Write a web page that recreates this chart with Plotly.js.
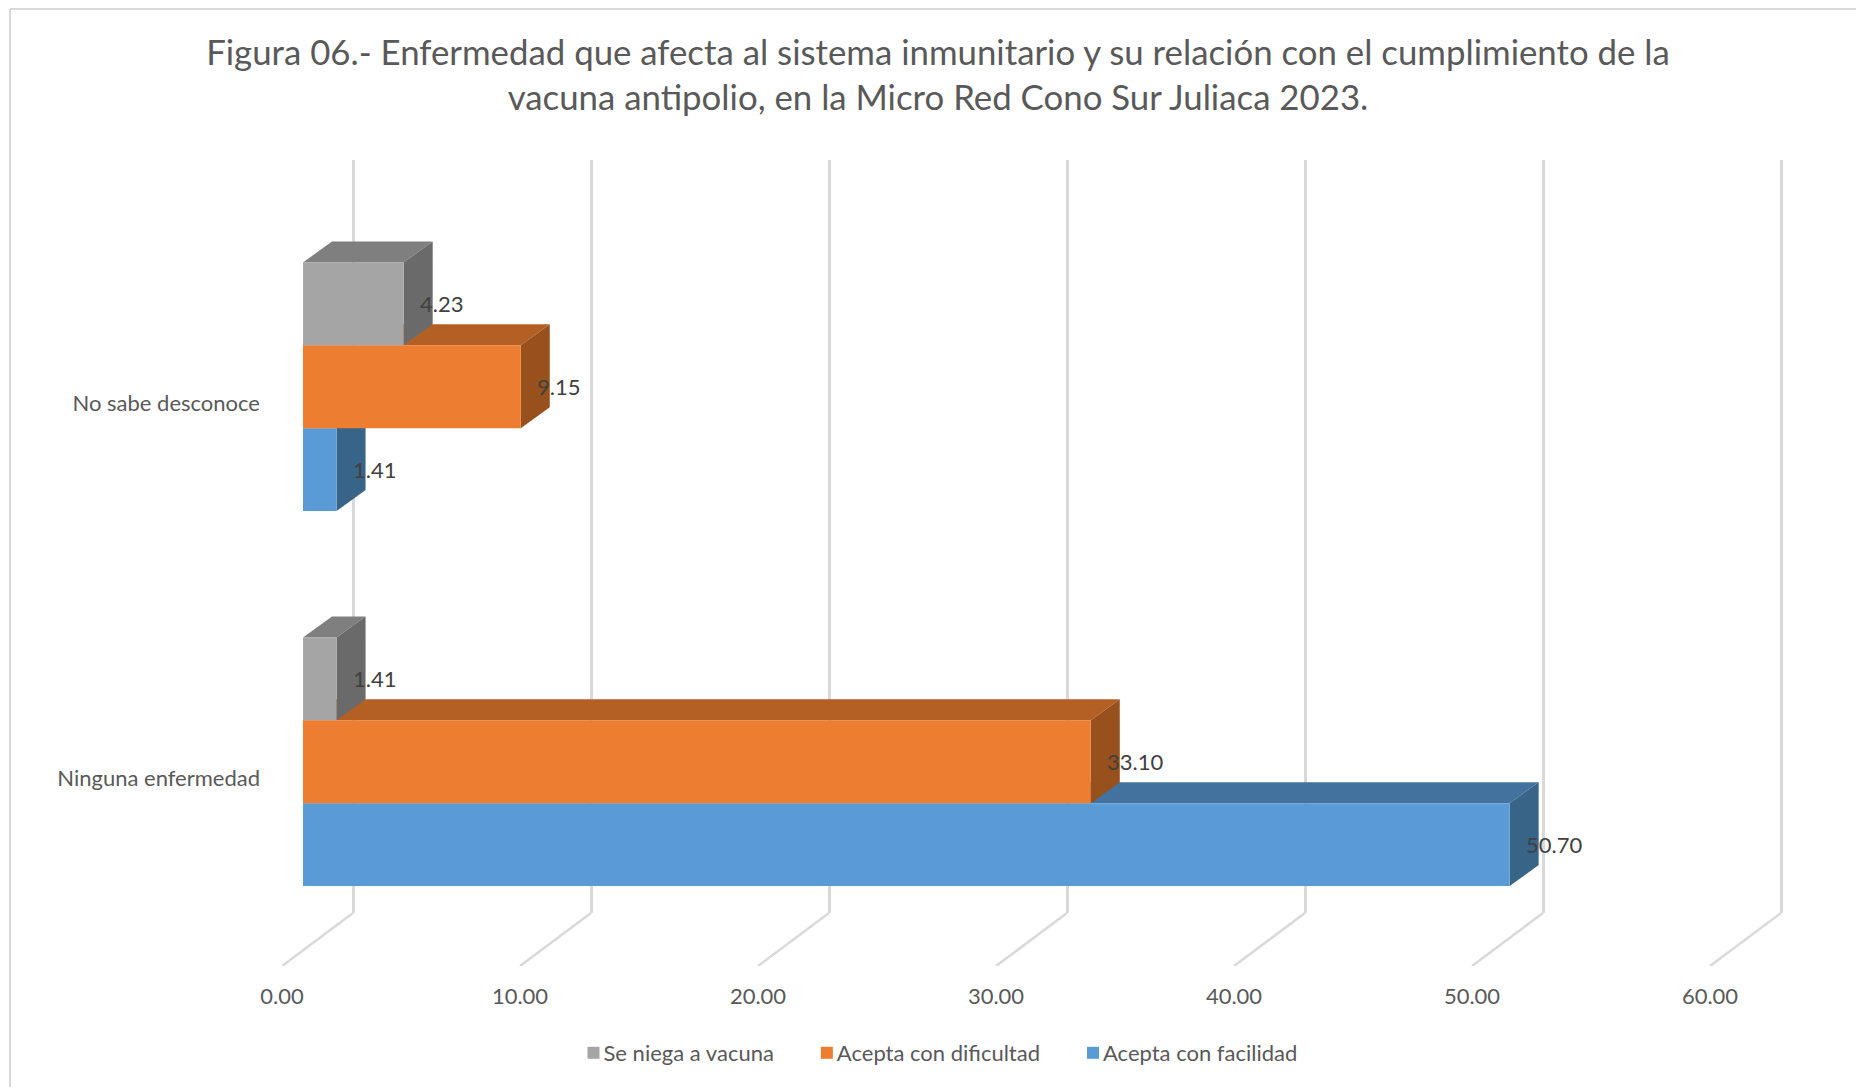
<!DOCTYPE html>
<html>
<head>
<meta charset="utf-8">
<script src="https://cdn.plot.ly/plotly-3.0.1.min.js"></script>
<style>html,body{margin:0;padding:0;background:#fff;overflow:hidden}#chart{width:1856px;height:1087px}</style>
</head>
<body>
<div id="chart"></div>
<script>
// ---- data ----
const categories = ["Ninguna enfermedad", "No sabe desconoce"];
const seriesNames = ["Acepta con facilidad", "Acepta con dificultad", "Se niega a vacuna"];
const facilidad = [50.70, 1.41];
const dificultad = [33.10, 9.15];
const seNiega = [1.41, 4.23];
const tickValues = [0, 10, 20, 30, 40, 50, 60];
const tickLabels = ["0.00", "10.00", "20.00", "30.00", "40.00", "50.00", "60.00"];
const titleLines = ["Figura 06.- Enfermedad que afecta al sistema inmunitario y su relación con el cumplimiento de la",
                    "vacuna antipolio, en la Micro Red Cono Sur Juliaca 2023."];

// ---- style ----
const W = 1856, H = 1087;
const FONT = "Lato, Carlito, Calibri, sans-serif";
const frontColors = ["#5B9BD5", "#ED7D31", "#A5A5A5"];
const topColors = ["#42729D", "#B45F24", "#7F7F7F"];
const sideColors = ["#386488", "#98511D", "#6A6A6A"];
const GRID = "#D9D9D9";
const BARGAP = 0.337;
const UNIT_X = 1428 / 60;   // px per value unit
const UNIT_Y = 750 / 2;     // px per category slot
const DEPTH_X = 29 / UNIT_X, DEPTH_Y = 21 / UNIT_Y;           // bar depth
const FLOOR_X = 71 / UNIT_X, FLOOR_Y = 53 / UNIT_Y;           // floor depth

const fx = px => px / W, fy = px => 1 - px / H;
const series = [facilidad, dificultad, seNiega];
const barH = (1 - BARGAP) / 3;
const yIdx = categories.map((_, i) => i);

// ---- traces ----
const traces = series.map((vals, s) => ({
  type: "bar", orientation: "h", name: seriesNames[s],
  x: vals, y: yIdx, xaxis: "x2", yaxis: "y2",
  marker: {color: frontColors[s]}, hoverinfo: "x+name"
}));

// floor lines running from the back wall to the front edge
const floorX = [], floorY = [];
tickValues.forEach(v => { floorX.push(v, v + FLOOR_X, null); floorY.push(-0.5, -0.5 + FLOOR_Y, null); });
traces.push({type: "scatter", mode: "lines", x: floorX, y: floorY, xaxis: "x3", yaxis: "y3",
  line: {color: GRID, width: 2.5}, showlegend: false, hoverinfo: "skip", cliponaxis: false});
// anchors the back-wall subplot
traces.push({type: "scatter", mode: "lines", x: [0, 60], y: [-0.5, -0.5], xaxis: "x", yaxis: "y",
  line: {color: "rgba(0,0,0,0)", width: 0}, showlegend: false, hoverinfo: "skip"});

// ---- 3D faces and data labels, all derived from the values ----
const shapes = [
  {type: "line", xref: "paper", yref: "paper", x0: fx(10), x1: fx(10), y0: 0, y1: fy(9), line: {color: GRID, width: 2}},
  {type: "line", xref: "paper", yref: "paper", x0: fx(10), x1: 1, y0: fy(9), y1: fy(9), line: {color: GRID, width: 2}}
];
const annotations = [];
series.forEach((vals, s) => vals.forEach((v, c) => {
  const yc = c + (s - 1) * barH, y0 = yc - barH / 2, y1 = yc + barH / 2;
  const common = {type: "path", xref: "x2", yref: "y2", layer: "below", line: {width: 0}};
  shapes.push(Object.assign({}, common, {fillcolor: topColors[s],
    path: `M0,${y1} L${DEPTH_X},${y1 + DEPTH_Y} L${v + DEPTH_X},${y1 + DEPTH_Y} L${v},${y1} Z`}));
  shapes.push(Object.assign({}, common, {fillcolor: sideColors[s],
    path: `M${v},${y0} L${v + DEPTH_X},${y0 + DEPTH_Y} L${v + DEPTH_X},${y1 + DEPTH_Y} L${v},${y1} Z`}));
  annotations.push({xref: "x2", yref: "y2", x: v, y: yc, xanchor: "left", yanchor: "middle", xshift: 14, showarrow: false,
    text: v.toFixed(2), font: {family: FONT, size: 22, color: "#404040"}});
}));

const layout = {
  width: W, height: H, margin: {l: 0, r: 0, t: 0, b: 0},
  paper_bgcolor: "#fff", plot_bgcolor: "rgba(0,0,0,0)", showlegend: true,
  font: {family: FONT, color: "#595959"},
  title: {text: titleLines.join("<br>"), x: fx(938), xanchor: "center", xref: "paper",
          y: fy(65), yanchor: "middle", yref: "paper", font: {family: FONT, size: 34.8, color: "#595959"}},
  barmode: "group", bargap: BARGAP, bargroupgap: 0,
  // back wall: carries the gridlines (range padded so the 0 and 60 lines are drawn)
  xaxis: {domain: [fx(353 - 2 * UNIT_X), fx(1781 + 2 * UNIT_X)], range: [-2, 62], anchor: "y", tickvals: tickValues, showticklabels: false,
          showgrid: true, gridcolor: GRID, gridwidth: 2.5, zeroline: false, showline: false, ticks: ""},
  yaxis: {domain: [fy(913), fy(160)], range: [-0.5, 1.5], anchor: "x", showgrid: false, zeroline: false, showticklabels: false, ticks: ""},
  // bars
  xaxis2: {domain: [fx(303), fx(1731)], range: [0, 60], anchor: "y2", showgrid: false, zeroline: false, showticklabels: false, ticks: ""},
  yaxis2: {domain: [fy(949.25), fy(199.25)], range: [-0.5, 1.5], anchor: "x2", showgrid: false, zeroline: false, showticklabels: false, ticks: ""},
  // floor front edge: carries the axis labels (range extended so the last floor line fits)
  xaxis3: {domain: [fx(282), fx(282 + 65 * UNIT_X)], range: [0, 65], anchor: "y3", tickmode: "array", tickvals: tickValues, ticktext: tickLabels,
           showgrid: false, zeroline: false, showline: false, ticks: "", ticklabelstandoff: 15,
           tickfont: {family: FONT, size: 22, color: "#595959"}},
  yaxis3: {domain: [fy(966), fy(216)], range: [-0.5, 1.5], anchor: "x3", tickmode: "array", tickvals: yIdx, ticktext: categories,
           showgrid: false, zeroline: false, showline: false, ticks: "", ticklabelstandoff: 21,
           tickfont: {family: FONT, size: 22, color: "#595959"}},
  legend: {orientation: "h", traceorder: "reversed", x: fx(915), xanchor: "center", y: fy(1053), yanchor: "middle",
           font: {family: FONT, size: 22, color: "#595959"}},
  shapes: shapes, annotations: annotations
};

Plotly.newPlot("chart", traces, layout, {displayModeBar: false, responsive: false}).then(() => {
  // tighten the swatch-to-text gap and widen the spacing between legend entries
  document.querySelectorAll(".legend .legendsymbols").forEach(g => g.setAttribute("transform", "translate(10,0)"));
  const box = document.querySelector(".legend .scrollbox");
  if (box) box.removeAttribute("clip-path");
  document.querySelectorAll(".legend .traces").forEach((g, i) => {
    const m = /translate\(\s*([-\d.]+)[ ,]+([-\d.]+)\s*\)/.exec(g.getAttribute("transform") || "");
    if (m) g.setAttribute("transform", `translate(${parseFloat(m[1]) + i * 18},${m[2]})`);
  });
});
</script>
</body>
</html>
